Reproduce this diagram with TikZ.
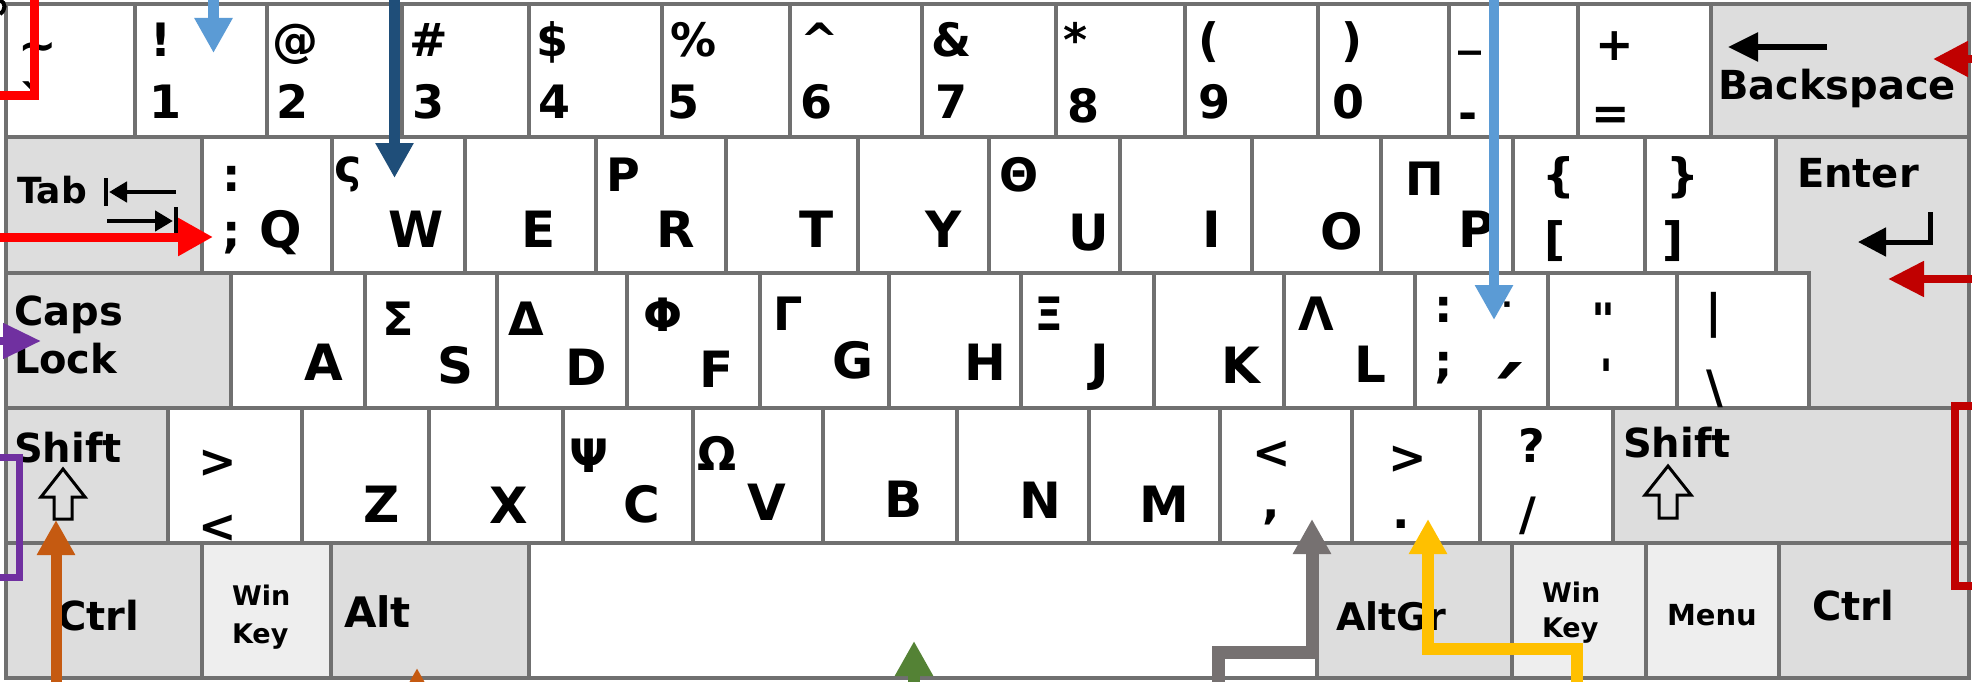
\documentclass[tikz,border=0pt]{standalone}
\usepackage{fontspec}
\newfontfamily\kb{DejaVu Sans}
\usetikzlibrary{arrows.meta}
\definecolor{kborder}{HTML}{707070}
\definecolor{kgrey}{HTML}{DDDDDD}
\definecolor{klight}{HTML}{EEEEEE}
\definecolor{cred}{HTML}{FF0000}
\definecolor{cdred}{HTML}{C00000}
\definecolor{clblue}{HTML}{5B9BD5}
\definecolor{cdblue}{HTML}{1F4E79}
\definecolor{cpurple}{HTML}{7030A0}
\definecolor{corange}{HTML}{C55A11}
\definecolor{cgreen}{HTML}{548235}
\definecolor{cgray}{HTML}{767171}
\definecolor{cyellow}{HTML}{FFC000}
\begin{document}
\begin{tikzpicture}[x=1pt,y=-1pt,
  kw/.style={draw=kborder,line width=3.5pt,fill=white},
  kg/.style={kw,fill=kgrey},
  kl/.style={kw,fill=klight},
  t/.style={anchor=base west,inner sep=0pt,outer sep=0pt},
  sy/.style={t,font=\kb\bfseries\fontsize{46}{46}\selectfont},
  le/.style={t,font=\kb\bfseries\fontsize{50}{50}\selectfont},
  md/.style={t,font=\kb\bfseries\fontsize{40}{40}\selectfont},
  sm/.style={t,font=\kb\bfseries\fontsize{27}{27}\selectfont},
  blk/.style={line width=4.5pt,-{Triangle[length=18pt,width=20pt]}},
  ann/.style={-{Triangle[length=35pt,width=36pt]},line join=miter},
  brk/.style={line join=miter}]
\clip (0,0) rectangle (1972,682);
\fill[white] (0,0) rectangle (1972,682);
% ---- row 1
\foreach \a/\b in {6/135,135/267,267/402,402/529,529/662,662/790,790/922,922/1056,1056/1185,1185/1318,1318/1449,1449/1578,1578/1711}
  \draw[kw] (\a,4) rectangle (\b,137);
\draw[kg] (1711,4) rectangle (1969,137);
% ---- row 2
\draw[kg] (6,137) rectangle (202,273);
\foreach \a/\b in {202/332,332/465,465/596,596/726,726/858,858/989,989/1120,1120/1252,1252/1381,1381/1513,1513/1645,1645/1776}
  \draw[kw] (\a,137) rectangle (\b,273);
% ---- row 3
\draw[kg] (6,273) rectangle (231,408);
\foreach \a/\b in {231/365,365/497,497/627,627/760,760/889,889/1021,1021/1154,1154/1284,1284/1415,1415/1548,1548/1677,1677/1809}
  \draw[kw] (\a,273) rectangle (\b,408);
\draw[kg] (1776,137) -- (1969,137) -- (1969,408) -- (1809,408) -- (1809,273) -- (1776,273) -- cycle;
% ---- row 4
\draw[kg] (6,408) rectangle (168,543);
\foreach \a/\b in {168/302,302/429,429/563,563/693,693/823,823/957,957/1089,1089/1220,1220/1352,1352/1480,1480/1613}
  \draw[kw] (\a,408) rectangle (\b,543);
\draw[kg] (1613,408) rectangle (1969,543);
% ---- row 5
\draw[kg] (6,543) rectangle (202,678);
\draw[kl] (202,543) rectangle (331,678);
\draw[kg] (331,543) rectangle (529,678);
\draw[kw] (529,543) rectangle (1317,678);
\draw[kg] (1317,543) rectangle (1512,678);
\draw[kl] (1512,543) rectangle (1646,678);
\draw[kl] (1646,543) rectangle (1779,678);
\draw[kg] (1779,543) rectangle (1969,678);
% ---- row 1 labels
\node[sy] (a0) at (18,62) {\textasciitilde};
\node[sy] (a0b) at (20,119) {`};
\node[sy] (a1) at (150,57) {!};    \node[sy] (b1) at (149,119) {1};
\node[sy] (a2) at (272,57) {@};    \node[sy] (b2) at (276,119) {2};
\node[sy] (a3) at (409,57) {\#};   \node[sy] (b3) at (412,119) {3};
\node[sy] (a4) at (536,57) {\$};   \node[sy] (b4) at (538,119) {4};
\node[sy] (a5) at (670,57) {\%};   \node[sy] (b5) at (667,119) {5};
\node[sy] (a6) at (800,57) {\textasciicircum}; \node[sy] (b6) at (800,119) {6};
\node[sy] (a7) at (931,57) {\&};   \node[sy] (b7) at (935,119) {7};
\node[sy] (a8) at (1063,57) {*};   \node[sy] (b8) at (1067,123) {8};
\node[sy] (a9) at (1198,57) {(};   \node[sy] (b9) at (1198,119) {9};
\node[sy] (a10) at (1341,57) {)};  \node[sy] (b10) at (1332,119) {0};
\node[sy] (a11) at (1458,45) {\_}; \node[sy] (b11) at (1458,130) {-};
\node[sy] (a12) at (1595,61) {+};  \node[sy] (b12) at (1591,129) {=};
\node[md] (bksp) at (1718,100) {Backspace};
\draw[line width=5.5pt,-{Triangle[length=30pt,width=28pt]}] (1827,47) -- (1728,47);
% ---- row 2 labels
\node[t,font=\kb\bfseries\fontsize{36}{36}\selectfont] (tab) at (17,203) {Tab};
\draw[blk] (176,192) -- (109,192);
\draw[line width=4pt] (106,178) -- (106,206);
\draw[blk] (107,221) -- (173,221);
\draw[line width=4pt] (176,207) -- (176,235);
\node[sy] (q1) at (222,191) {:};  \node[sy] (q2) at (222,247) {;};
\node[le] (q) at (259,247) {Q};
\node[sy] (w1) at (334,182) {ς};  \node[le] (w) at (388,247) {W};
\node[le] (e) at (521,247) {E};
\node[sy] (r1) at (606,191) {Ρ};  \node[le] (r) at (656,247) {R};
\node[le] (tt) at (799,247) {T};
\node[le] (y) at (925,247) {Y};
\node[sy] (u1) at (999,191) {Θ};  \node[le] (u) at (1068,250) {U};
\node[le] (i) at (1202,247) {I};
\node[le] (o) at (1320,249) {O};
\node[sy] (p1) at (1405,195) {Π};  \node[le] (p) at (1458,247) {P};
\node[sy] (lb1) at (1542,191) {\{}; \node[sy] (lb2) at (1544,255) {[};
\node[sy] (rb1) at (1666,191) {\}}; \node[sy] (rb2) at (1662,255) {]};
\node[md] (enter) at (1797,187) {Enter};
\draw[line width=5pt,line join=miter,-{Triangle[length=28pt,width=28pt]}] (1930,212) -- (1930,242) -- (1858,242);
% ---- row 3 labels
\node[md] (caps1) at (14,325) {Caps};
\node[md] (caps2) at (14,373) {Lock};
\node[le] (ka) at (304,380) {A};
\node[sy] (s1) at (382,335) {Σ};  \node[le] (ks) at (437,383) {S};
\node[sy] (d1) at (508,335) {Δ};  \node[le] (kd) at (565,385) {D};
\node[sy] (f1) at (643,331) {Φ};  \node[le] (kf) at (699,387) {F};
\node[sy] (g1) at (773,330) {Γ};  \node[le] (kg) at (832,378) {G};
\node[le] (kh) at (964,380) {H};
\node[sy] (j1) at (1034,330) {Ξ}; \node[le] (kj) at (1090,380) {J};
\node[le] (kk) at (1221,383) {K};
\node[sy] (l1) at (1298,330) {Λ}; \node[le] (kl) at (1354,382) {L};
\node[sy] (sc1) at (1434,322) {:}; \node[sy] (sc2) at (1434,377) {;};
\node[sy,text depth=0pt] (sc3) at (1491,337) {¨};
\node[t,text height=72pt,text depth=0pt,font=\kb\bfseries\fontsize{90}{90}\selectfont] (sc4) at (1482,434) {΄};
\node[sy] (qt1) at (1591,336) {"}; \node[sy] (qt2) at (1599,392) {'};
\node[sy] (bs1) at (1705,327) {|}; \node[sy] (bs2) at (1706,403) {\textbackslash};
% ---- row 4 labels
\node[md] (shl) at (14,462) {Shift};
\draw[line width=3pt,line join=miter] (63,469) -- (85,497) -- (72,497) -- (72,519) -- (54,519) -- (54,497) -- (41,497) -- cycle;
\node[sy] (gt1) at (198,477) {>}; \node[sy] (lt1) at (198,542) {<};
\node[le] (kz) at (363,522) {Z};
\node[le] (kx) at (489,523) {X};
\node[sy] (c1) at (569,472) {Ψ};  \node[le] (kc) at (623,522) {C};
\node[sy] (v1) at (697,470) {Ω};  \node[le] (kv) at (747,520) {V};
\node[le] (kb) at (884,517) {B};
\node[le] (kn) at (1019,518) {N};
\node[le] (km) at (1139,522) {M};
\node[sy] (cm1) at (1252,468) {<}; \node[sy] (cm2) at (1262,518) {,};
\node[sy] (pd1) at (1388,473) {>}; \node[sy] (pd2) at (1392,528) {.};
\node[sy] (sl1) at (1518,462) {?}; \node[sy] (sl2) at (1519,530) {/};
\node[md] (shr) at (1623,457) {Shift};
\draw[line width=3pt,line join=miter] (1668,466) -- (1691,495) -- (1677,495) -- (1677,518) -- (1659,518) -- (1659,495) -- (1645,495) -- cycle;
% ---- row 5 labels
\node[md] (ctl) at (57,630) {Ctrl};
\node[sm] (wl1) at (232,605) {Win}; \node[sm] (wl2) at (232,643) {Key};
\node[t,font=\kb\bfseries\fontsize{42}{42}\selectfont] (alt) at (344,627) {Alt};
\node[t,font=\kb\bfseries\fontsize{38}{38}\selectfont] (altgr) at (1336,630) {AltGr};
\node[sm] (wr1) at (1542,602) {Win}; \node[sm] (wr2) at (1542,637) {Key};
\node[t,font=\kb\bfseries\fontsize{29}{29}\selectfont] (menu) at (1667,625) {Menu};
\node[md] (ctr) at (1812,620) {Ctrl};
% ---- small black mark top-left
\draw[line width=4pt] (0,0) .. controls (6,3) and (6,10) .. (0,14);
% ---- annotation coordinates
\coordinate (rA) at (34,-10);  \coordinate (rB) at (34,96);  \coordinate (rC) at (-10,96);
\coordinate (rD) at (-10,237); \coordinate (rE) at (213,237);
\coordinate (lbA) at (213.5,-10); \coordinate (lbB) at (213.5,53);
\coordinate (dbA) at (394.5,-10); \coordinate (dbB) at (394.5,178);
\coordinate (lcA) at (1494,-10); \coordinate (lcB) at (1494,320);
\coordinate (drA) at (1990,59); \coordinate (drB) at (1933,59);
\coordinate (drC) at (1990,279); \coordinate (drD) at (1888,279);
\coordinate (bkA) at (1990,406); \coordinate (bkB) at (1955,406);
\coordinate (bkC) at (1955,586); \coordinate (bkD) at (1990,586);
\coordinate (puA) at (-20,341); \coordinate (puB) at (41,341);
\coordinate (pbA) at (-10,457); \coordinate (pbB) at (19,457);
\coordinate (pbC) at (19,577); \coordinate (pbD) at (-10,577);
\coordinate (orA) at (56,700); \coordinate (orB) at (56,520);
\coordinate (o2A) at (417,720); \coordinate (o2B) at (417,668);
\coordinate (gnA) at (914,700); \coordinate (gnB) at (914,641);
\coordinate (gyA) at (1218,700); \coordinate (gyB) at (1218,652);
\coordinate (gyC) at (1312,652); \coordinate (gyD) at (1312,519);
\coordinate (ywA) at (1577,700); \coordinate (ywB) at (1577,649);
\coordinate (ywC) at (1428,649); \coordinate (ywD) at (1428,519);
% ---- annotations
\draw[cred,line width=9pt,brk] (rA) -- (rB) -- (rC);
\draw[cred,line width=9pt,ann] (rD) -- (rE);
\draw[clblue,line width=11pt,ann] (lbA) -- (lbB);
\draw[cdblue,line width=11pt,ann] (dbA) -- (dbB);
\draw[clblue,line width=10.5pt,ann] (lcA) -- (lcB);
\draw[cdred,line width=8pt,-{Triangle[length=35pt,width=34pt]}] (drA) -- (drB);
\draw[cdred,line width=8pt,-{Triangle[length=36pt,width=34pt]}] (drC) -- (drD);
\draw[cdred,line width=8pt,brk] (bkA) -- (bkB) -- (bkC) -- (bkD);
\draw[cpurple,line width=8pt,-{Triangle[length=38pt,width=34pt]}] (puA) -- (puB);
\draw[cpurple,line width=7pt,brk] (pbA) -- (pbB) -- (pbC) -- (pbD);
\draw[corange,line width=11pt,ann] (orA) -- (orB);
\draw[corange,line width=11pt,ann] (o2A) -- (o2B);
\draw[cgreen,line width=12pt,ann] (gnA) -- (gnB);
\draw[cgray,line width=13pt,ann] (gyA) -- (gyB) -- (gyC) -- (gyD);
\draw[cyellow,line width=12pt,ann] (ywA) -- (ywB) -- (ywC) -- (ywD);
\end{tikzpicture}
\end{document}
